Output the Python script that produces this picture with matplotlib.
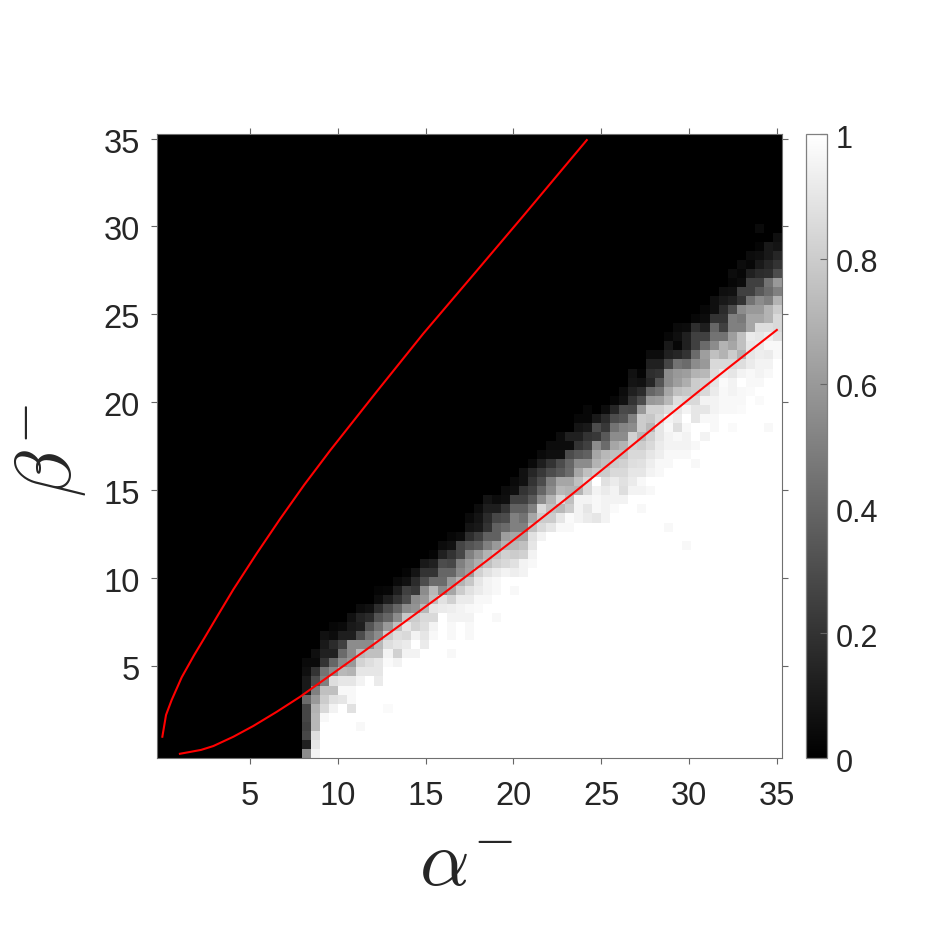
import numpy as np
import matplotlib
matplotlib.use("Agg")
import matplotlib.pyplot as plt
from matplotlib.transforms import ScaledTranslation

plt.rcParams['font.family'] = ['Liberation Sans', 'DejaVu Sans']
plt.rcParams['mathtext.fontset'] = 'cm'

n_cells = 69
axis_low, axis_high = -0.257, 35.257
first_band_col = 16

# per column (from col 16 on): first row listed, values going up. Below = 1, above = 0.
col_start = [0, 0, 4, 5, 5, 5, 3, 8, 8, 5,            # 16-25
             10, 11, 11, 12, 13, 14, 11, 14, 13, 16,  # 26-35
             17, 15, 20, 18, 20, 21, 24, 25, 24, 25,  # 36-45
             26, 26, 26, 26, 27, 28, 29, 27, 29, 31,  # 46-55
             25, 33, 33, 32, 35, 36, 38, 36, 38, 40,  # 56-65
             39, 36, 43]                              # 66-68
col_values = [
    [.55,.13,.28,.25,.27,.27,.42,.10,.10,.06,.04],
    [.95,.90,.87,.72,.72,.70,.60,.50,.30,.20,.04,.06],
    [.97,.85,.80,.75,.50,.45,.20,.13,.10,.07],
    [.95,.88,.75,.87,.55,.40,.13,.17,.05,.03],
    [1,.90,.97,.90,.72,.55,.42,.25,.12,.04],
    [.88,.97,.97,.90,.70,.60,.55,.55,.12,.10,.07],
    [.97,1,1,1,1,.95,.90,.83,.72,.55,.30,.12,.14,.05],
    [1,.90,.87,.75,.55,.45,.33,.17,.07],
    [.92,.90,.90,.75,.72,.55,.45,.33,.18,.05,.02],
    [.98,1,1,1,1,.98,.95,.87,.80,.60,.40,.30,.12,.03],
    [.95,.82,.90,.87,.75,.55,.40,.20,.12,.04],
    [.95,.92,.85,.90,.78,.55,.30,.25,.07,.02],
    [.95,1,.95,.83,.80,.58,.55,.22,.17,.08],
    [.92,.90,.87,.85,.72,.60,.55,.30,.20,.10],
    [.97,.95,.85,.90,.75,.72,.42,.20,.13,.02],
    [1,1,.92,.88,.55,.42,.40,.30,.13,.05],
    [.97,1,.97,.97,.95,.93,.82,.65,.60,.40,.28,.20,.07,.03],
    [1,.95,.95,.92,.80,.70,.55,.50,.28,.27,.05],
    [.97,.97,.95,.97,.92,.88,.78,.62,.60,.50,.33,.18,.08,.04],
    [.98,.97,.92,.90,.82,.68,.60,.37,.25,.10,.08,.05],
    [.97,.95,.95,.88,.75,.70,.50,.38,.20,.17,.12,.08],
    [.97,1,1,.97,.97,.92,.82,.75,.60,.38,.38,.28,.12,.05],
    [.95,.85,.82,.70,.62,.42,.30,.20,.06,.05],
    [.97,1,.93,.88,.80,.72,.65,.50,.50,.38,.25,.06,.04],
    [.95,.95,.82,.75,.65,.50,.45,.38,.25,.20,.07,.07],
    [.97,.95,.90,.88,.75,.65,.50,.35,.25,.20,.15,.04],
    [.95,.85,.80,.85,.55,.40,.30,.22,.12,.04],
    [.90,.80,.75,.70,.55,.50,.30,.20,.06,.05],
    [1,.97,.90,.72,.85,.72,.65,.35,.30,.06,.05,.05],
    [.97,.98,.80,.75,.70,.65,.42,.40,.30,.05,.13],
    [.95,.95,.95,.70,.75,.65,.55,.35,.20,.13,.08,.03],
    [.92,.90,.95,.85,.85,.75,.55,.38,.25,.20,.10,.03,.03],
    [.90,.97,.97,.95,1,.80,.70,.65,.55,.22,.30,.10],
    [.95,.95,.95,.92,.88,.80,.75,.72,.42,.35,.22,.17,.05],
    [.98,.95,.95,.92,.85,.80,.75,.65,.55,.45,.30,.15,.03],
    [.95,.87,.88,.85,.82,.75,.70,.55,.52,.33,.29,.07,.05],
    [.95,.92,.90,.87,.85,.82,.82,.55,.50,.28,.20,.13,.08,.07],
    [.97,1,.95,.97,.90,.88,.85,.80,.72,.80,.80,.60,.30,.17,.07,.02],
    [.97,1,.95,.93,.90,.85,.82,.72,.78,.82,.60,.40,.15,.18,.13,.05],
    [.97,.97,.93,.92,.90,.90,.85,.82,.62,.45,.33,.20,.13,.05],
    [.97,1,1,1,1,1,1,.97,.97,.95,.95,.97,.95,.87,.72,.65,.55,.55,.27,.13,.10,.03],
    [.97,.95,.97,.87,.92,.90,.87,.75,.62,.60,.45,.15,.03,.06,.04],
    [.97,.95,.95,.97,1,.95,.85,.78,.68,.62,.42,.20,.13,.13,.05],
    [.97,1,.97,1,1,.90,.90,.85,.80,.80,.70,.55,.42,.25,.25,.18,.03],
    [.95,1,.97,.90,.95,.85,.82,.72,.60,.62,.42,.25,.12,.05,.03],
    [.97,.97,.95,.95,.92,.90,.87,.85,.75,.55,.45,.40,.20,.06,.06],
    [.97,.97,.97,.98,.92,.85,.70,.70,.45,.25,.20,.17,.10,.06],
    [.98,1,.97,.97,.95,.95,.90,.85,.80,.65,.62,.50,.50,.30,.13,.07,.03,.05],
    [.98,.97,.97,1,.95,.87,.70,.75,.75,.50,.48,.55,.20,.25,.05,.03,.05],
    [.98,.97,.97,.92,.90,.90,.92,.65,.65,.60,.45,.25,.25,.13,.03,.05],
    [.98,1,.97,.95,.95,.93,.92,.90,.87,.65,.60,.55,.35,.25,.17,.10,.06,.02,0,.04],
    [.97,1,1,1,1,1,.97,.95,.92,.97,.93,.87,.70,.70,.50,.42,.45,.18,.15,.10,.10],
    [1,.97,.97,.88,.85,.85,.80,.70,.50,.60,.30,.20,.15,.08,.06],
]
isolated_cols = [58]
isolated_rows = [23]
isolated_vals = [.97]

x_ticks = [5, 10, 15, 20, 25, 30, 35]
y_ticks = [5, 10, 15, 20, 25, 30, 35]
cbar_ticks = [0, 0.2, 0.4, 0.6, 0.8, 1]
cbar_labels = ['0', '0.2', '0.4', '0.6', '0.8', '1']

upper_x = [0.03, 0.24, 0.56, 1.13, 1.83, 2.40, 3.20, 4.07, 5.40, 6.72, 8.10, 9.57, 12.22, 14.87, 17.72, 20.56, 24.17]
upper_y = [0.97, 2.21, 3.06, 4.35, 5.60, 6.55, 7.90, 9.35, 11.40, 13.35, 15.30, 17.25, 20.60, 23.90, 27.25, 30.60, 34.91]
lower_x = [1.03, 2.23, 2.93, 4.07, 5.20, 6.54, 7.86, 9.56, 11.46, 13.74, 15.82, 18.48, 20.94, 23.41, 26.06, 28.51, 30.43, 32.32, 34.98]
lower_y = [0.00, 0.22, 0.44, 0.97, 1.58, 2.39, 3.24, 4.45, 5.80, 7.45, 8.97, 10.98, 12.88, 14.83, 16.98, 18.98, 20.53, 22.03, 24.11]

grid = np.zeros((n_cells, n_cells))
for offset, (start, vals) in enumerate(zip(col_start, col_values)):
    col = first_band_col + offset
    grid[:start, col] = 1
    grid[start:start + len(vals), col] = vals
for c, r, v in zip(isolated_cols, isolated_rows, isolated_vals):
    grid[r, c] = v

W = H = 934
fig = plt.figure(figsize=(W / 100, H / 100), dpi=100, facecolor='white')
ax = fig.add_axes([157.3 / W, 1 - 758.3 / H, 624.4 / W, 624.3 / H])
im = ax.imshow(grid, cmap='gray', vmin=0, vmax=1, origin='lower', aspect='auto',
               interpolation='nearest', extent=(axis_low, axis_high, axis_low, axis_high))
ax.plot(upper_x, upper_y, color='#ff0000', lw=1.5)
ax.plot(lower_x, lower_y, color='#ff0000', lw=1.5)
ax.set_xlim(axis_low, axis_high)
ax.set_ylim(axis_low, axis_high)
ax.set_xticks(x_ticks)
ax.set_yticks(y_ticks)
ax.tick_params(axis='both', which='major', direction='out', length=4.5, width=0.8, color='#666666',
               labelcolor='#262626', labelsize=23.5, top=True, right=True, labeltop=False, labelright=False)
ax.tick_params(axis='x', pad=12)
ax.tick_params(axis='y', pad=8)
for s in ax.spines.values():
    s.set_color('#707070')
    s.set_linewidth(0.8)

cax = fig.add_axes([806.3 / W, 1 - 758.3 / H, 20.7 / W, 624.3 / H])
cb = fig.colorbar(im, cax=cax, ticks=cbar_ticks)
cb.ax.set_yticklabels(cbar_labels)
cb.ax.tick_params(direction='in', length=5, width=0.8, color='#666666', labelcolor='#262626',
                  labelsize=22, pad=6.5, right=True)
cb.outline.set_edgecolor('#808080')
cb.outline.set_linewidth(0.9)

down = ScaledTranslation(0, -0.02, fig.dpi_scale_trans)
for lab in list(cb.ax.get_yticklabels()) + list(ax.get_yticklabels()):
    lab.set_transform(lab.get_transform() + down)

fig.text(466 / W, 1 - 866 / H, r'$\alpha^{-}$', fontsize=56, color='#262626', ha='center', va='center')
fig.text(50 / W, 1 - 450 / H, r'$\beta^{-}$', fontsize=56, color='#262626', ha='center', va='center', rotation=90)

fig.savefig('out.png', dpi=100, facecolor='white')
